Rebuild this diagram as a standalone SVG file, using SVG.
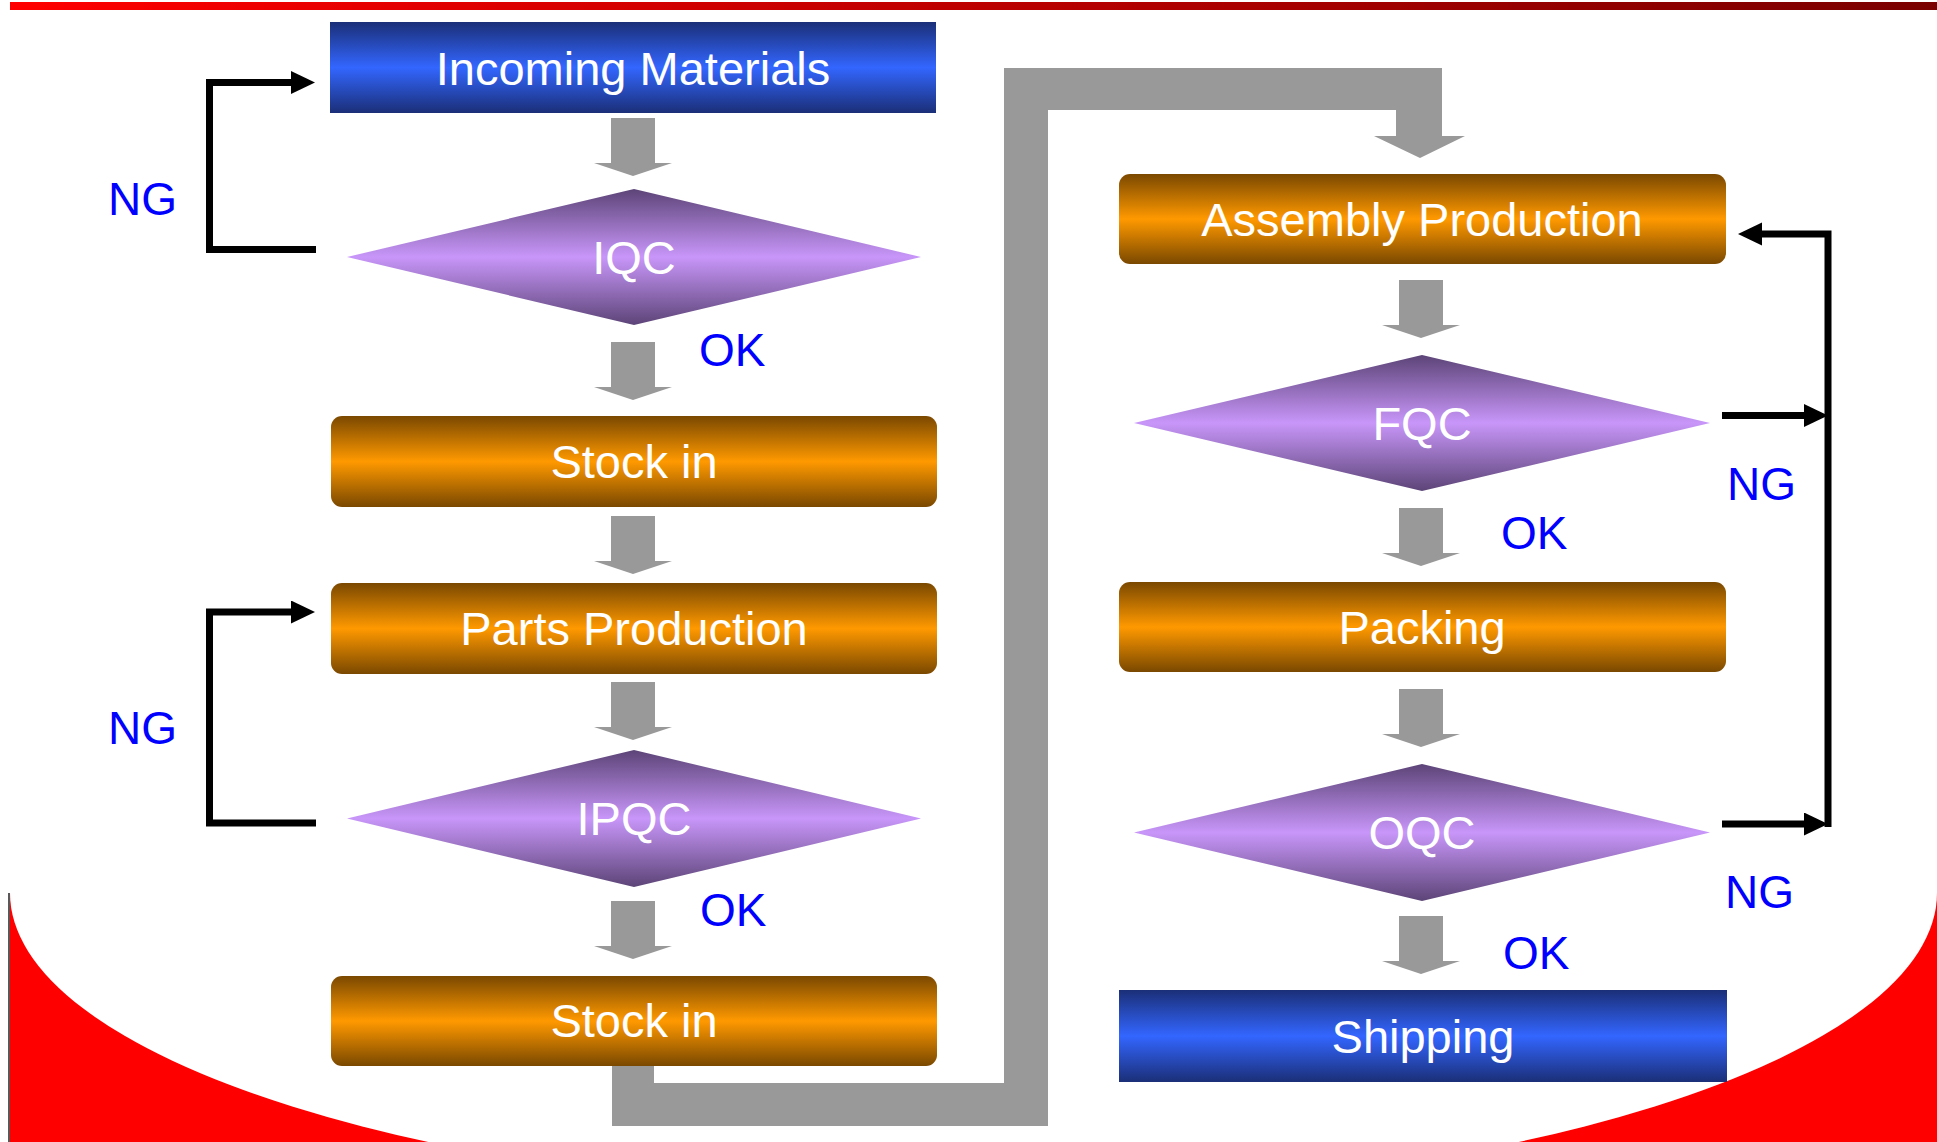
<svg xmlns="http://www.w3.org/2000/svg" width="1937" height="1142" viewBox="0 0 1937 1142">
<defs>
<linearGradient id="gBar" x1="0" y1="0" x2="1" y2="0"><stop offset="0" stop-color="#FF0000"/><stop offset="1" stop-color="#7A0000"/></linearGradient>
<linearGradient id="gBlue" x1="0" y1="0" x2="0" y2="1"><stop offset="0" stop-color="#1B2F78"/><stop offset="0.5" stop-color="#3366FF"/><stop offset="1" stop-color="#1B2F78"/></linearGradient>
<linearGradient id="gOrange" x1="0" y1="0" x2="0" y2="1"><stop offset="0" stop-color="#7A4800"/><stop offset="0.5" stop-color="#FF9900"/><stop offset="1" stop-color="#7A4800"/></linearGradient>
<linearGradient id="gPurple" x1="0" y1="0" x2="0" y2="1"><stop offset="0" stop-color="#5C4477"/><stop offset="0.5" stop-color="#C896F9"/><stop offset="1" stop-color="#5C4477"/></linearGradient>
<marker id="ah" markerUnits="userSpaceOnUse" markerWidth="26" markerHeight="26" refX="0" refY="11.5" orient="auto" viewBox="0 0 26 26"><path d="M0,0 L24,11.5 L0,23 Z" fill="#000"/></marker>
<path id="garrow" d="M-22,0 H22 V45 H39 L0,58 L-39,45 H-22 Z" fill="#999999"/>
</defs>
<style>
.nt{font-family:"Liberation Sans",Arial,sans-serif;font-size:47px;fill:#FFFFFF;text-anchor:middle}
.lb{font-family:"Liberation Sans",Arial,sans-serif;font-size:46px;fill:#0000FF}
.fb{fill:none;stroke:#000;stroke-width:7;stroke-linejoin:miter}
</style>
<rect width="1937" height="1142" fill="#FFFFFF"/>
<g id="background">
<rect x="10" y="2" width="1927" height="8" fill="url(#gBar)"/>
<rect x="10" y="893" width="1927" height="249" fill="#FF0000"/>
<ellipse cx="973.5" cy="893" rx="963.5" ry="302" fill="#FFFFFF"/>
<line x1="9" y1="893" x2="9" y2="1142" stroke="#222" stroke-width="1.5"/>
</g>
<g id="connectors">
<path d="M612,1060 V1126 H1048 V110 H1396 V136 H1374 L1420,158 L1465,136 H1442 V68 H1004 V1083 H654 V1060 Z" fill="#999999"/>
<use href="#garrow" x="633" y="118"/>
<use href="#garrow" x="633" y="342"/>
<use href="#garrow" x="633" y="516"/>
<use href="#garrow" x="633" y="682"/>
<use href="#garrow" x="633" y="901"/>
<use href="#garrow" x="1421" y="280"/>
<use href="#garrow" x="1421" y="508"/>
<use href="#garrow" x="1421" y="689"/>
<use href="#garrow" x="1421" y="916"/>
<path class="fb" d="M316,249.5 H209.5 V82.5 H291" marker-end="url(#ah)"/>
<path class="fb" d="M316,823 H209.5 V612 H291" marker-end="url(#ah)"/>
<path class="fb" d="M1722,415.5 H1804" marker-end="url(#ah)"/>
<path class="fb" d="M1722,824 H1804" marker-end="url(#ah)"/>
<path class="fb" d="M1828,827 V234 H1762" marker-end="url(#ah)"/>
<text class="lb" x="108" y="215">NG</text>
<text class="lb" x="108" y="744">NG</text>
<text class="lb" x="699" y="366">OK</text>
<text class="lb" x="700" y="926">OK</text>
<text class="lb" x="1501" y="549">OK</text>
<text class="lb" x="1503" y="969">OK</text>
<text class="lb" x="1727" y="500">NG</text>
<text class="lb" x="1725" y="908">NG</text>
</g>
<g id="incoming"><rect x="330" y="22" width="606" height="91" fill="url(#gBlue)"/><text class="nt" x="633" y="85">Incoming Materials</text></g>
<g id="iqc"><polygon points="634,189 921,257 634,325 347,257" fill="url(#gPurple)"/><text class="nt" x="634" y="274">IQC</text></g>
<g id="stockin1"><rect x="331" y="416" width="606" height="91" rx="11" fill="url(#gOrange)"/><text class="nt" x="634" y="478">Stock in</text></g>
<g id="parts"><rect x="331" y="583" width="606" height="91" rx="11" fill="url(#gOrange)"/><text class="nt" x="634" y="645">Parts Production</text></g>
<g id="ipqc"><polygon points="634,750 921,818.5 634,887 347,818.5" fill="url(#gPurple)"/><text class="nt" x="634" y="835">IPQC</text></g>
<g id="stockin2"><rect x="331" y="976" width="606" height="90" rx="11" fill="url(#gOrange)"/><text class="nt" x="634" y="1037">Stock in</text></g>
<g id="assembly"><rect x="1119" y="174" width="607" height="90" rx="11" fill="url(#gOrange)"/><text class="nt" x="1422" y="236">Assembly Production</text></g>
<g id="fqc"><polygon points="1422,355 1710,423 1422,491 1134,423" fill="url(#gPurple)"/><text class="nt" x="1422" y="440">FQC</text></g>
<g id="packing"><rect x="1119" y="582" width="607" height="90" rx="11" fill="url(#gOrange)"/><text class="nt" x="1422" y="644">Packing</text></g>
<g id="oqc"><polygon points="1422,764 1710,832.5 1422,901 1134,832.5" fill="url(#gPurple)"/><text class="nt" x="1422" y="849">OQC</text></g>
<g id="shipping"><rect x="1119" y="990" width="608" height="92" fill="url(#gBlue)"/><text class="nt" x="1423" y="1053">Shipping</text></g>
</svg>
